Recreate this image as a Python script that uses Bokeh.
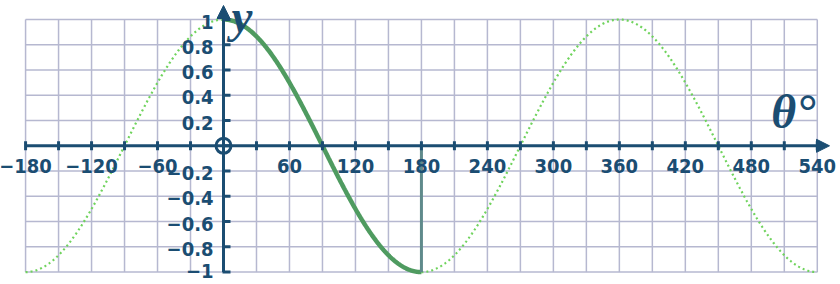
import numpy as np
from bokeh.plotting import figure
from bokeh.models import Range1d, Arrow, NormalHead
from bokeh.core.properties import value
from bokeh.embed import file_html
from bokeh.resources import INLINE

# ---- chart data ----
theta_start, theta_end = -180, 540          # full (dotted) cosine domain
solid_start, solid_end = 0, 180             # highlighted (solid) part
drop_theta = 180                            # vertical marker position
x_grid = list(range(-180, 541, 30))
y_grid = [round(-1 + 0.2 * i, 1) for i in range(11)]
x_tick_values = [-180, -120, -60, 60, 120, 180, 240, 300, 360, 420, 480, 540]
y_tick_values = [1, 0.8, 0.6, 0.4, 0.2, -0.2, -0.4, -0.6, -0.8]
y_bottom_value = -1

def fmt(v):
    s = ("%g" % v)
    return s.replace("-", "\u2212")

x_tick_labels = [fmt(v) for v in x_tick_values]
y_tick_labels = [fmt(v) for v in y_tick_values]

theta_all = np.linspace(theta_start, theta_end, 1441)
cos_all = np.cos(np.radians(theta_all))
theta_solid = np.linspace(solid_start, solid_end, 361)
cos_solid = np.cos(np.radians(theta_solid))

# ---- styles ----
AXIS = "#1b4d72"
GRID = "#b6b8d0"
SOLID = "#4f9b60"
DOTS = "#6fd35c"
DROP = "#5f8a8b"
TXT = "#1b4d72"
TICK_FONT = value("DejaVu Sans Condensed")
SERIF = value("Liberation Serif")

px_x = 1.0996   # px per degree
px_y = 126.3    # px per unit

p = figure(width=840, height=284,
           x_range=Range1d(-223 / px_x, (840 - 223) / px_x),
           y_range=Range1d(-(284 - 145.3) / px_y, 145.3 / px_y),
           min_border=0, toolbar_location=None, output_backend="svg",
           x_axis_location=None, y_axis_location=None)
p.grid.visible = False
p.outline_line_color = None
p.background_fill_color = "white"
p.border_fill_color = "white"

# grid
p.segment(x0=x_grid, y0=-1, x1=x_grid, y1=1, line_color=GRID, line_width=1.5)
p.segment(x0=theta_start, y0=y_grid, x1=theta_end, y1=y_grid, line_color=GRID, line_width=1.5)

# curves
p.line(theta_all, cos_all, line_color=DOTS, line_width=2.2, line_dash="2 3")
p.line(theta_solid, cos_solid, line_color=SOLID, line_width=4.5)
p.segment(x0=[drop_theta], y0=[-1], x1=[drop_theta], y1=[0], line_color=DROP, line_width=3)

# axes with arrows
p.add_layout(Arrow(x_start=theta_start, y_start=0, x_end=(829 - 223) / px_x, y_end=0,
                   line_color=AXIS, line_width=3,
                   end=NormalHead(size=13, fill_color=AXIS, line_color=AXIS, line_width=1)))
p.add_layout(Arrow(x_start=0, y_start=-1, x_end=0, y_end=(145.3 - 5) / px_y,
                   line_color=AXIS, line_width=3,
                   end=NormalHead(size=13, fill_color=AXIS, line_color=AXIS, line_width=1)))

# ticks
p.segment(x0=x_grid, y0=-4.5 / px_y, x1=x_grid, y1=4.5 / px_y, line_color=AXIS, line_width=3)
p.segment(x0=-1 / px_x, y0=y_grid, x1=7 / px_x, y1=y_grid, line_color=AXIS, line_width=3)

# origin circle
p.scatter(x=[0], y=[0], marker="circle", size=15, fill_color=None,
          line_color=AXIS, line_width=3)

# tick labels
p.text(x=x_tick_values, y=0, text=x_tick_labels, text_font=TICK_FONT,
       text_font_size="20px", text_font_style="bold", text_color=TXT,
       text_align="center", text_baseline="middle", y_offset=20)
p.text(x=0, y=y_tick_values, text=y_tick_labels, text_font=TICK_FONT,
       text_font_size="20px", text_font_style="bold", text_color=TXT,
       text_align="right", text_baseline="middle", x_offset=-10, y_offset=2)
p.text(x=[0], y=[y_bottom_value], text=[fmt(y_bottom_value)], text_font=TICK_FONT,
       text_font_size="20px", text_font_style="bold", text_color=TXT,
       text_align="right", text_baseline="middle", x_offset=-10, y_offset=-1)

# axis titles
p.text(x=[0], y=[0], text=["y"], text_font=SERIF, text_font_style="bold italic",
       text_font_size="47px", text_color=TXT, text_align="left",
       text_baseline="alphabetic", x_offset=8, y_offset=-130)
p.text(x=[theta_end], y=[0], text=["\u03b8\u00b0"], text_font=SERIF,
       text_font_style="bold italic", text_font_size="48px", text_color=TXT,
       text_align="left", text_baseline="alphabetic", x_offset=-46, y_offset=-34)

open("out.html", "w").write(file_html(p, INLINE))
